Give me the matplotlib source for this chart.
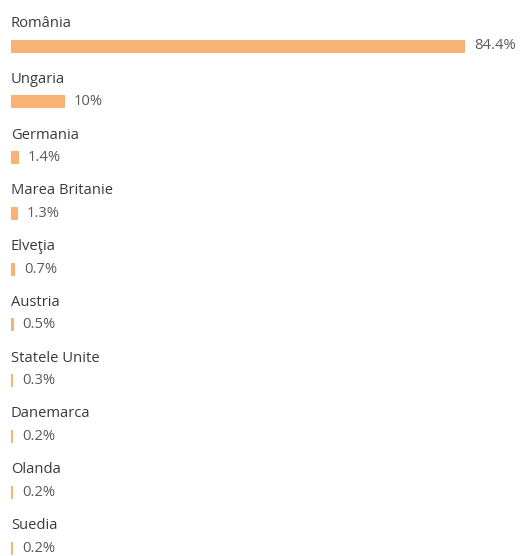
import matplotlib
matplotlib.use("Agg")
import matplotlib.pyplot as plt

countries = ["România", "Ungaria", "Germania", "Marea Britanie", "Elveţia",
             "Austria", "Statele Unite", "Danemarca", "Olanda", "Suedia"]
values = [84.4, 10, 1.4, 1.3, 0.7, 0.5, 0.3, 0.2, 0.2, 0.2]
value_labels = ["84.4%", "10%", "1.4%", "1.3%", "0.7%", "0.5%", "0.3%", "0.2%", "0.2%", "0.2%"]

W, H = 520, 556
fig = plt.figure(figsize=(W / 100, H / 100), dpi=100)
left_px = 11
ax = fig.add_axes([left_px / W, 0, (W - left_px) / W, 1])
ax.set_axis_off()

px_per_unit_x = (465 - left_px) / 84.4
ax.set_xlim(0, (W - left_px) / px_per_unit_x)
row_px = (548 - 46) / 9
ax.set_ylim((H - 46) / row_px, -46 / row_px)

color = "#F7B375"
ys = list(range(len(countries)))
draw_w = [max(v, 2.0 / px_per_unit_x) for v in values]
ax.barh(ys, draw_w, height=13 / row_px, color=color, left=0)

for y, name, w, lab in zip(ys, countries, draw_w, value_labels):
    ax.text(0, y - 22.5 / row_px, name, ha="left", va="center", fontsize=10.6,
            color="#3a3a3a", family="Open Sans")
    ax.annotate(lab, xy=(w, y), xytext=(6.5, 0), textcoords="offset points",
                ha="left", va="center", fontsize=10.6, color="#5a5a5a", family="Open Sans")

fig.savefig("out.png", dpi=100)
